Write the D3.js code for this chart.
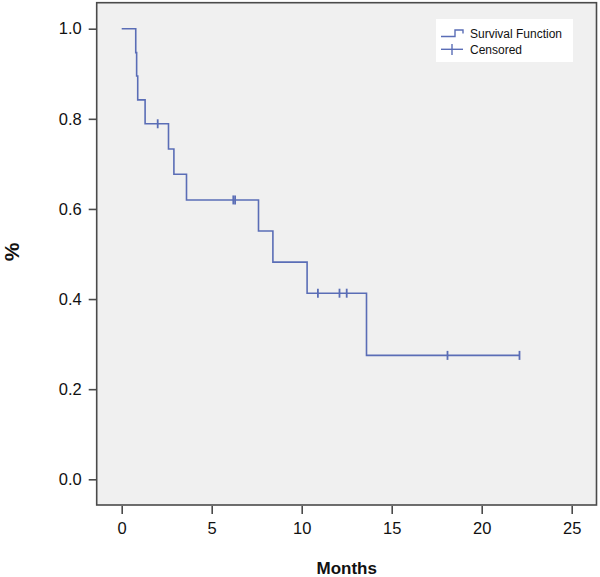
<!DOCTYPE html>
<html>
<head>
<meta charset="utf-8">
<script src="https://cdn.jsdelivr.net/npm/d3@7"></script>
<style>
  html, body { margin: 0; padding: 0; background: #ffffff; }
  svg { display: block; font-family: "Liberation Sans", Arial, sans-serif; }
</style>
</head>
<body>
<svg id="chart" width="600" height="577"></svg>
<script>
// Kaplan-Meier step values
const stepTimes    = [0, 0.78, 0.83, 0.89, 1.3, 2.6, 2.9, 3.6, 7.6, 8.4, 10.3, 13.6];
const stepSurvival = [1.0, 0.947, 0.895, 0.842, 0.789, 0.733, 0.677, 0.620, 0.551, 0.482, 0.413, 0.275];
const lastTime = 22.1;
const censorTimes    = [2.0, 6.2, 6.3, 10.9, 12.1, 12.5, 18.1, 22.1];
const censorSurvival = [0.789, 0.620, 0.620, 0.413, 0.413, 0.413, 0.275, 0.275];
const xTicks = [0, 5, 10, 15, 20, 25];
const yTicks = [0.0, 0.2, 0.4, 0.6, 0.8, 1.0];
const legendLabels = ["Survival Function", "Censored"];

const color = "#5a6db6";
const axisColor = "#4a4a4a";
const svg = d3.select("#chart");

const panel = { left: 96.7, top: 2.7, right: 596.5, bottom: 505 };
const x = d3.scaleLinear().domain([0, 25]).range([121.7, 571.7]);
const y = d3.scaleLinear().domain([0, 1]).range([479.3, 28.7]);

// panel
svg.append("rect")
  .attr("x", panel.left).attr("y", panel.top)
  .attr("width", panel.right - panel.left).attr("height", panel.bottom - panel.top)
  .attr("fill", "#f0f0f0").attr("stroke", axisColor).attr("stroke-width", 1.6);

// y axis
const yAxis = d3.axisLeft(y).tickValues(yTicks).tickFormat(d3.format(".1f")).tickSize(8).tickPadding(7);
const gy = svg.append("g").attr("transform", `translate(${panel.left},0)`).call(yAxis);
gy.select(".domain").remove();
gy.selectAll(".tick line").attr("stroke", axisColor).attr("stroke-width", 1.6);
gy.selectAll(".tick text").attr("font-size", 16.5).attr("fill", "#111").attr("font-family", "Liberation Sans, Arial, sans-serif");

// x axis
const xAxis = d3.axisBottom(x).tickValues(xTicks).tickFormat(d3.format("d")).tickSize(8).tickPadding(8);
const gx = svg.append("g").attr("transform", `translate(0,${panel.bottom + 1})`).call(xAxis);
gx.select(".domain").remove();
gx.selectAll(".tick line").attr("stroke", axisColor).attr("stroke-width", 1.6);
gx.selectAll(".tick text").attr("font-size", 16.5).attr("fill", "#111").attr("font-family", "Liberation Sans, Arial, sans-serif");

// axis titles
svg.append("text").attr("x", 346.7).attr("y", 574).attr("text-anchor", "middle")
  .attr("font-size", 17).attr("font-weight", "bold").attr("fill", "#111").text("Months");
svg.append("text").attr("transform", "translate(19,252) rotate(-90)").attr("text-anchor", "middle")
  .attr("font-size", 21).attr("font-weight", "bold").attr("fill", "#111").text("%");

// survival curve
const pts = stepTimes.map((t, i) => [t, stepSurvival[i]]);
pts.push([lastTime, stepSurvival[stepSurvival.length - 1]]);
const line = d3.line().x(d => x(d[0])).y(d => y(d[1])).curve(d3.curveStepAfter);
svg.append("path").datum(pts).attr("d", line)
  .attr("fill", "none").attr("stroke", color).attr("stroke-width", 1.6);

// censor marks
svg.append("g").selectAll("line").data(censorTimes).join("line")
  .attr("x1", d => x(d)).attr("x2", d => x(d))
  .attr("y1", (d, i) => y(censorSurvival[i]) - 4.5)
  .attr("y2", (d, i) => y(censorSurvival[i]) + 4.5)
  .attr("stroke", color).attr("stroke-width", 1.8);

// legend
const lg = svg.append("g");
lg.append("rect").attr("x", 436).attr("y", 19).attr("width", 137).attr("height", 43)
  .attr("fill", "#ffffff");
lg.append("path").attr("d", "M441,36.5 H455 V30 H463 V33.5")
  .attr("fill", "none").attr("stroke", color).attr("stroke-width", 1.4);
lg.append("line").attr("x1", 441).attr("x2", 463).attr("y1", 49.3).attr("y2", 49.3)
  .attr("stroke", color).attr("stroke-width", 1.4);
lg.append("line").attr("x1", 452).attr("x2", 452).attr("y1", 44).attr("y2", 55)
  .attr("stroke", color).attr("stroke-width", 1.4);
lg.selectAll("text.lab").data(legendLabels).join("text").attr("class", "lab")
  .attr("x", 470).attr("y", (d, i) => 37.5 + i * 16.3)
  .attr("font-size", 12).attr("fill", "#111").text(d => d);
</script>
</body>
</html>
